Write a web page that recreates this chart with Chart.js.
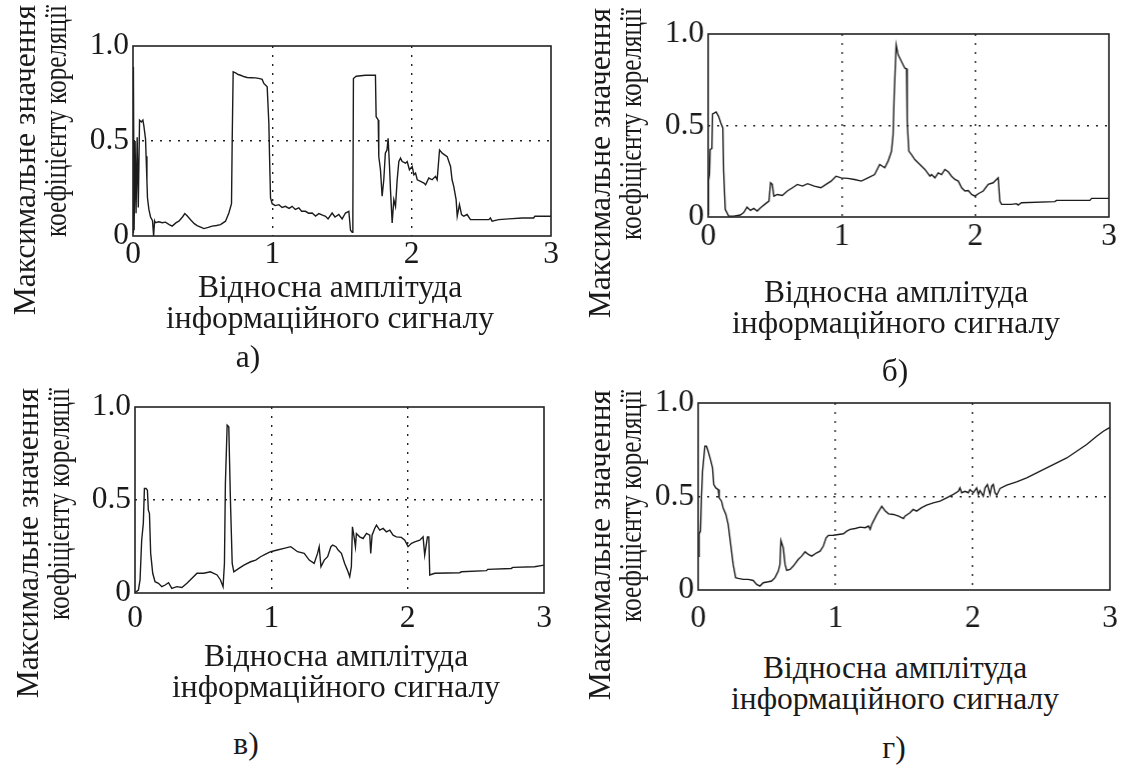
<!DOCTYPE html>
<html><head><meta charset="utf-8">
<script src="https://cdn.jsdelivr.net/npm/chart.js@4.4.0/dist/chart.umd.min.js"></script>
<style>
body{margin:0;background:#fff;width:1121px;height:769px;overflow:hidden;position:relative;font-family:'Liberation Serif';color:#1a1a1a}
canvas{position:absolute}
.t{position:absolute;font-family:'Liberation Serif';font-size:31.5px;line-height:31px;text-align:center;white-space:nowrap;width:420px}
.yt{position:absolute;font-family:'Liberation Serif';font-size:31.5px;line-height:31px;text-align:right;white-space:nowrap;width:340px;transform-origin:0 0;transform:rotate(-90deg)}
.yt span{display:inline-block;transform-origin:100% 50%;transform:scaleX(0.8)}
.lb{position:absolute;font-family:'Liberation Serif';font-size:31.5px;line-height:32px;white-space:nowrap;width:60px;text-align:center}
</style></head><body>
<canvas id="ca"></canvas><canvas id="cb"></canvas><canvas id="cc"></canvas><canvas id="cd"></canvas>
<div id="texts"></div>
<script>
// ---- data ----
const xTicks = [0, 1, 2, 3];
const xTickLabels = ['0', '1', '2', '3'];
const yTicks = [0, 0.5, 1];
const yTickLabels = ['0', '0.5', '1.0'];
const xTitle = ['Відносна амплітуда', 'інформаційного сигналу'];
const yTitle = ['Максимальне значення', 'коефіцієнту кореляції'];
const panelLabels = ['а)', 'б)', 'в)', 'г)'];

const aX = [0,0.003,0.008,0.015,0.022,0.03,0.038,0.047,0.06,0.071,0.078,0.09,0.094,0.1,0.104,0.114,0.126,0.14,0.148,0.155,0.161,0.185,0.21,0.233,0.26,0.281,0.31,0.329,0.355,0.372,0.39,0.413,0.44,0.46,0.49,0.508,0.54,0.568,0.6,0.628,0.664,0.688,0.707,0.712,0.719,0.736,0.755,0.772,0.8,0.819,0.85,0.879,0.91,0.927,0.939,0.963,0.975,0.98,0.987,0.999,1.02,1.047,1.07,1.094,1.12,1.142,1.165,1.19,1.21,1.238,1.26,1.286,1.31,1.334,1.36,1.382,1.4,1.429,1.45,1.477,1.501,1.525,1.549,1.561,1.573,1.578,1.582,1.602,1.669,1.74,1.745,1.76,1.764,1.776,1.788,1.8,1.811,1.823,1.831,1.841,1.848,1.86,1.872,1.884,1.896,1.908,1.92,1.932,1.956,1.968,1.984,2.004,2.016,2.028,2.04,2.064,2.088,2.1,2.123,2.147,2.171,2.183,2.2,2.219,2.255,2.279,2.29,2.302,2.319,2.327,2.343,2.358,2.374,2.398,2.422,2.446,2.554,2.565,2.577,2.625,2.697,2.793,2.876,2.884,3.0];
const aY = [0.02,0.89,0.03,0.5,0.12,0.52,0.15,0.61,0.6,0.61,0.58,0.51,0.42,0.29,0.2,0.14,0.1,0.08,0.0,0.08,0.07,0.075,0.07,0.073,0.06,0.052,0.07,0.078,0.1,0.118,0.105,0.086,0.065,0.055,0.045,0.039,0.045,0.052,0.055,0.06,0.078,0.121,0.17,0.506,0.864,0.859,0.85,0.846,0.838,0.834,0.833,0.832,0.828,0.824,0.803,0.785,0.593,0.418,0.2,0.17,0.16,0.165,0.15,0.156,0.145,0.156,0.14,0.148,0.13,0.13,0.12,0.121,0.105,0.118,0.11,0.104,0.09,0.121,0.1,0.113,0.09,0.121,0.13,0.03,0.02,0.12,0.829,0.841,0.846,0.846,0.628,0.611,0.418,0.349,0.209,0.296,0.436,0.453,0.514,0.366,0.244,0.069,0.191,0.156,0.296,0.392,0.41,0.392,0.383,0.392,0.349,0.366,0.322,0.331,0.296,0.287,0.279,0.27,0.305,0.296,0.314,0.296,0.453,0.436,0.418,0.366,0.296,0.261,0.191,0.104,0.165,0.113,0.104,0.113,0.086,0.086,0.086,0.095,0.078,0.086,0.09,0.095,0.095,0.104,0.104];

const bX = [0,0.003,0.01,0.015,0.028,0.033,0.045,0.06,0.078,0.095,0.11,0.116,0.128,0.153,0.191,0.241,0.266,0.291,0.317,0.342,0.367,0.392,0.43,0.455,0.467,0.48,0.492,0.518,0.555,0.593,0.631,0.668,0.706,0.744,0.794,0.844,0.882,0.92,0.957,0.995,1.045,1.095,1.146,1.196,1.246,1.284,1.322,1.347,1.372,1.384,1.392,1.407,1.422,1.447,1.472,1.485,1.49,1.502,1.522,1.547,1.585,1.622,1.66,1.672,1.697,1.722,1.747,1.772,1.797,1.822,1.847,1.872,1.897,1.922,1.947,1.972,1.997,2.022,2.059,2.096,2.133,2.171,2.183,2.196,2.27,2.308,2.32,2.345,2.595,2.607,2.857,2.87,3.0];
const bY = [0.015,0.2,0.232,0.369,0.374,0.563,0.568,0.574,0.55,0.514,0.487,0.251,0.042,0.005,0.005,0.011,0.024,0.054,0.036,0.047,0.033,0.051,0.073,0.087,0.187,0.178,0.114,0.123,0.118,0.142,0.16,0.178,0.169,0.182,0.169,0.16,0.178,0.196,0.223,0.214,0.211,0.205,0.196,0.214,0.232,0.287,0.269,0.305,0.359,0.45,0.659,0.94,0.886,0.85,0.813,0.81,0.52,0.36,0.341,0.314,0.287,0.26,0.223,0.232,0.214,0.241,0.232,0.26,0.247,0.223,0.205,0.196,0.16,0.142,0.145,0.123,0.114,0.127,0.142,0.178,0.187,0.214,0.087,0.069,0.069,0.073,0.065,0.078,0.084,0.091,0.091,0.102,0.102];

const cX = [0,0.025,0.037,0.049,0.061,0.069,0.081,0.091,0.098,0.106,0.115,0.13,0.147,0.172,0.197,0.221,0.246,0.27,0.307,0.344,0.381,0.418,0.455,0.504,0.553,0.602,0.627,0.646,0.656,0.663,0.676,0.688,0.7,0.713,0.725,0.762,0.799,0.848,0.885,0.921,0.958,0.995,1.044,1.093,1.143,1.192,1.241,1.278,1.314,1.339,1.351,1.364,1.388,1.413,1.437,1.45,1.474,1.49,1.514,1.538,1.558,1.575,1.587,1.595,1.607,1.617,1.624,1.648,1.673,1.698,1.722,1.729,1.739,1.758,1.771,1.795,1.82,1.844,1.869,1.893,1.917,1.954,1.979,2.003,2.028,2.052,2.089,2.113,2.125,2.145,2.155,2.162,2.199,2.382,2.394,2.578,2.587,2.759,2.772,2.931,3.0];
const cY = [0.002,0.016,0.07,0.284,0.374,0.562,0.562,0.553,0.445,0.428,0.213,0.106,0.061,0.052,0.034,0.043,0.055,0.025,0.034,0.03,0.052,0.079,0.106,0.106,0.114,0.097,0.07,0.034,0.159,0.589,0.902,0.893,0.499,0.159,0.114,0.132,0.15,0.168,0.177,0.195,0.209,0.222,0.231,0.24,0.249,0.222,0.213,0.177,0.159,0.213,0.249,0.141,0.177,0.195,0.249,0.258,0.249,0.231,0.213,0.159,0.123,0.088,0.141,0.356,0.302,0.249,0.32,0.302,0.293,0.32,0.311,0.213,0.311,0.347,0.365,0.338,0.347,0.329,0.338,0.311,0.302,0.299,0.284,0.249,0.267,0.275,0.284,0.302,0.204,0.302,0.302,0.097,0.106,0.109,0.114,0.12,0.127,0.132,0.138,0.141,0.15];

const dX = [0,0.007,0.017,0.024,0.032,0.041,0.049,0.061,0.073,0.09,0.105,0.114,0.129,0.146,0.153,0.17,0.182,0.202,0.219,0.231,0.243,0.255,0.273,0.292,0.328,0.365,0.401,0.426,0.45,0.474,0.511,0.535,0.56,0.584,0.596,0.603,0.62,0.633,0.645,0.669,0.693,0.73,0.754,0.779,0.803,0.827,0.864,0.888,0.912,0.932,0.949,0.985,1.022,1.058,1.083,1.107,1.144,1.18,1.217,1.241,1.253,1.265,1.302,1.338,1.363,1.387,1.423,1.46,1.496,1.506,1.543,1.567,1.591,1.628,1.664,1.713,1.762,1.81,1.859,1.895,1.907,1.92,1.944,1.968,1.98,2.005,2.029,2.041,2.053,2.077,2.09,2.107,2.126,2.138,2.15,2.162,2.175,2.199,2.248,2.32,2.393,2.466,2.539,2.612,2.685,2.758,2.83,2.903,2.952,3.0];
const dY = [0.18,0.3,0.315,0.493,0.635,0.706,0.769,0.769,0.742,0.697,0.653,0.564,0.546,0.537,0.493,0.475,0.439,0.404,0.35,0.279,0.208,0.137,0.066,0.062,0.057,0.057,0.051,0.03,0.021,0.039,0.044,0.048,0.066,0.101,0.137,0.265,0.226,0.137,0.105,0.11,0.128,0.164,0.181,0.204,0.19,0.181,0.199,0.208,0.235,0.279,0.292,0.293,0.297,0.301,0.315,0.324,0.329,0.336,0.333,0.342,0.324,0.351,0.404,0.448,0.422,0.407,0.404,0.395,0.382,0.395,0.413,0.431,0.422,0.44,0.454,0.466,0.475,0.493,0.511,0.528,0.546,0.52,0.528,0.52,0.537,0.52,0.546,0.511,0.532,0.502,0.546,0.564,0.511,0.555,0.564,0.52,0.507,0.543,0.561,0.578,0.6,0.627,0.653,0.68,0.706,0.742,0.778,0.822,0.849,0.87];

// ---- layout ----
const FONT = "'Liberation Serif'";
const INK = '#1a1a1a';

const framePlugin = {
  id: 'frame',
  afterDatasetsDraw(chart) {
    const a = chart.chartArea, ctx = chart.ctx;
    ctx.save();
    ctx.strokeStyle = '#222';
    ctx.lineWidth = 1.6;
    ctx.strokeRect(a.left, a.top, a.right - a.left, a.bottom - a.top);
    ctx.restore();
  }
};

function panel(id, box, xs, ys, xPad) {
  const [L, T, R, B] = box;
  const cv = document.getElementById(id);
  const cl = L - 80, ct = T - 40, cw = R - L + 120, ch = B - T + 100;
  cv.style.left = cl + 'px'; cv.style.top = ct + 'px';
  cv.width = cw; cv.height = ch;
  cv.style.width = cw + 'px'; cv.style.height = ch + 'px';
  const pts = xs.map((x, i) => ({x: x, y: ys[i]}));
  new Chart(cv, {
    type: 'line',
    data: {datasets: [{data: pts, borderColor: '#1c1c1c', borderWidth: 1.4, pointRadius: 0, tension: 0, fill: false}]},
    options: {
      responsive: false, animation: false, devicePixelRatio: 1,
      layout: {padding: {top: 40, right: 40, left: 0, bottom: 0}},
      plugins: {legend: {display: false}, tooltip: {enabled: false}},
      scales: {
        x: {
          type: 'linear', min: 0, max: 3,
          afterFit: s => { s.height = 60; },
          afterBuildTicks: s => { s.ticks = xTicks.map(v => ({value: v})); },
          grid: {drawTicks: false, lineWidth: 1.4,
                 color: c => (c.tick && c.tick.value > 0 && c.tick.value < 3) ? '#222' : 'rgba(0,0,0,0)'},
          border: {display: false, dash: [2, 7]},
          ticks: {padding: xPad, color: INK, font: {family: FONT, size: 31.5}, maxRotation: 0, autoSkip: false,
                  callback: v => xTickLabels[xTicks.indexOf(v)]}
        },
        y: {
          type: 'linear', min: 0, max: 1,
          afterFit: s => { s.width = 80; },
          afterBuildTicks: s => { s.ticks = yTicks.map(v => ({value: v})); },
          grid: {drawTicks: false, lineWidth: 1.4,
                 color: c => (c.tick && c.tick.value > 0 && c.tick.value < 1) ? '#222' : 'rgba(0,0,0,0)'},
          border: {display: false, dash: [2, 7]},
          ticks: {padding: 4, color: INK, font: {family: FONT, size: 31.5}, autoSkip: false,
                  callback: v => yTickLabels[yTicks.indexOf(v)]}
        }
      }
    },
    plugins: [framePlugin]
  });
}

panel('ca', [132.5, 45.7, 550.5, 236.5], aX, aY, 0);
panel('cb', [708.3, 33.7, 1109, 217.3], bX, bY, 1);
panel('cc', [135.3, 406.7, 544.3, 593], cX, cY, 7);
panel('cd', [698.3, 403, 1110, 590.3], dX, dY, 10);

// ---- text blocks ----
const texts = document.getElementById('texts');
function addTitle(cx, top) {
  const d = document.createElement('div');
  d.className = 't';
  d.style.left = (cx - 210) + 'px';
  d.style.top = top + 'px';
  d.innerHTML = xTitle.join('<br>');
  texts.appendChild(d);
}
function addYTitle(left, topEnd) {
  const d = document.createElement('div');
  d.className = 'yt';
  d.style.left = left + 'px';
  d.style.top = (topEnd + 340) + 'px';
  d.innerHTML = yTitle[0] + '<br><span>' + yTitle[1] + '</span>';
  texts.appendChild(d);
}
function addLabel(i, cx, cy) {
  const d = document.createElement('div');
  d.className = 'lb';
  d.style.left = (cx - 30) + 'px';
  d.style.top = (cy - 16) + 'px';
  d.textContent = panelLabels[i];
  texts.appendChild(d);
}
addYTitle(9, 5); addYTitle(584, 8); addYTitle(12, 388); addYTitle(584, 390);
addTitle(330, 271); addTitle(896, 276); addTitle(336, 640); addTitle(895, 652);
addLabel(0, 248, 357); addLabel(1, 895, 371); addLabel(2, 246, 744); addLabel(3, 894, 748);
</script>
</body></html>
